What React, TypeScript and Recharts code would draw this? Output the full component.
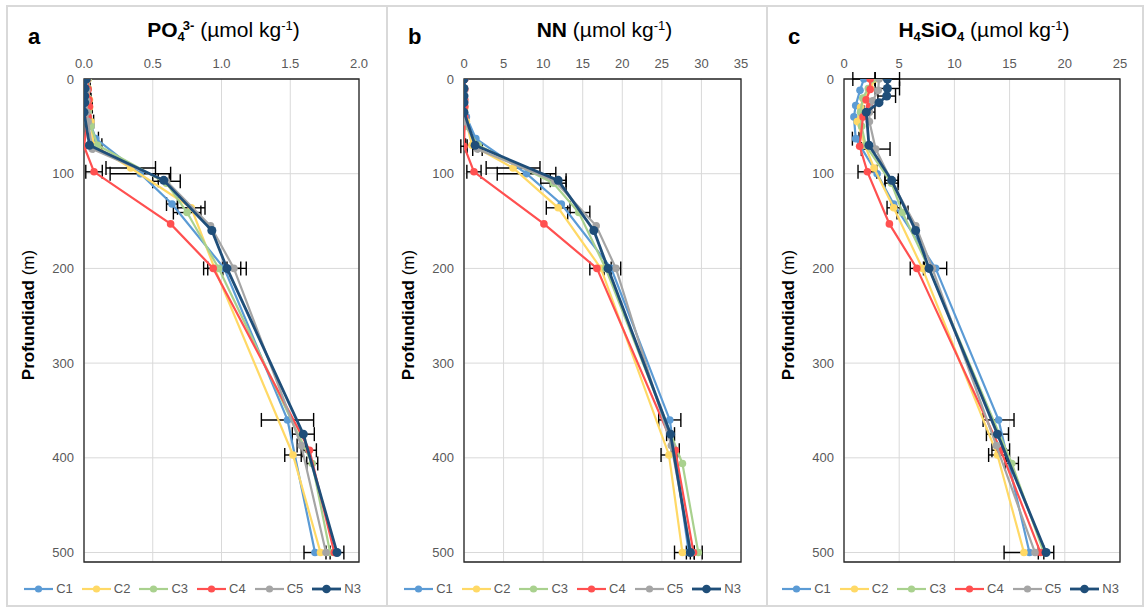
import React from "react";
import {
  ScatterChart,
  Scatter,
  XAxis,
  YAxis,
  CartesianGrid,
  ErrorBar,
  ReferenceArea,
} from "recharts";

// stations, in drawing order (N3 on top)
const stations = ["C1", "C2", "C3", "C4", "C5", "N3"];
const colors = ["#5B9BD5", "#FFD966", "#A9D18E", "#FF5050", "#A5A5A5", "#1F4E79"];

// sampling depths (m) per station
const depths = [
  [0, 12, 28, 40, 63, 100, 132, 200, 360, 500],
  [0, 10, 22, 30, 45, 70, 94, 136, 200, 397, 500],
  [0, 10, 20, 35, 50, 70, 110, 141, 200, 406, 500],
  [0, 11, 22, 29, 40, 71, 98, 153, 200, 392, 500],
  [0, 12, 23, 35, 45, 74, 108, 155, 200, 387, 500],
  [0, 10, 18, 25, 35, 70, 107, 160, 200, 375, 500],
];

// PO4 3- (µmol/kg)
const po4 = [
  [0.02, 0.02, 0.02, 0.03, 0.085, 0.41, 0.64, 1.02, 1.48, 1.68],
  [0.03, 0.03, 0.04, 0.04, 0.05, 0.07, 0.34, 0.78, 0.95, 1.52, 1.72],
  [0.03, 0.03, 0.03, 0.03, 0.05, 0.1, 0.6, 0.75, 0.98, 1.66, 1.79],
  [0.024, 0.03, 0.036, 0.04, 0.03, 0.0, 0.073, 0.63, 0.94, 1.64, 1.82],
  [0.02, 0.02, 0.02, 0.02, 0.03, 0.06, 0.6, 0.92, 1.09, 1.58, 1.76],
  [0.017, 0.007, 0.005, 0.005, 0.0, 0.04, 0.58, 0.93, 1.04, 1.595, 1.84],
];
const po4Err = [
  [0, 0, 0, 0, 0.02, 0.22, 0.04, 0, 0.19, 0.08],
  [0, 0, 0, 0, 0.02, 0, 0.18, 0.1, 0, 0.06, 0],
  [0, 0, 0, 0, 0, 0.03, 0, 0.1, 0, 0.04, 0],
  [0, 0.015, 0.015, 0.02, 0, 0, 0.06, 0, 0.07, 0.05, 0],
  [0, 0, 0, 0, 0, 0, 0.1, 0, 0.05, 0.03, 0],
  [0, 0, 0, 0, 0, 0, 0.04, 0, 0.14, 0.08, 0.05],
];

// nitrate + nitrite (µmol/kg)
const nn = [
  [0, 0, 0, 0.3, 1.5, 7.9, 12.3, 18.6, 26.0, 28.4],
  [0, 0, 0, 0.1, 0.3, 1.0, 6.2, 11.9, 17.3, 25.9, 27.6],
  [0, 0, 0, 0, 0.2, 1.8, 11.3, 14.5, 17.9, 27.6, 29.6],
  [0.1, 0.1, 0.1, 0.1, 0.1, 0, 1.26, 10.1, 16.8, 26.7, 29.0],
  [0, 0, 0, 0, 0.1, 1.7, 11.5, 16.7, 19.2, 26.2, 28.7],
  [0, 0, 0, 0, 0, 1.4, 11.9, 16.4, 18.2, 26.1, 28.6],
];
const nnErr = [
  [0, 0, 0, 0, 0, 3.7, 0, 0, 1.4, 0],
  [0, 0, 0, 0, 0, 0.8, 3.4, 1.5, 0, 1.0, 1.0],
  [0, 0, 0, 0, 0, 0, 1.6, 1.4, 0, 0, 0.5],
  [0, 0, 0, 0, 0, 0.4, 0.9, 0, 0.9, 0.5, 0],
  [0, 0, 0, 0, 0, 0.6, 0, 0, 0.6, 0, 0],
  [0, 0, 0, 0, 0, 0, 1.0, 0, 0, 0.5, 0.5],
];

// H4SiO4 (µmol/kg)
const si = [
  [1.8, 1.45, 1.06, 0.9, 1.06, 3.0, 4.5, 8.3, 14.0, 16.8],
  [2.8, 2.4, 1.8, 1.5, 1.2, 1.9, 2.72, 4.5, 7.1, 13.9, 16.3],
  [2.6, 2.2, 1.7, 1.5, 1.6, 1.96, 4.3, 5.3, 7.7, 15.2, 18.1],
  [2.37, 2.37, 2.0, 2.3, 1.72, 1.42, 2.12, 4.11, 6.6, 14.2, 17.8],
  [3.17, 3.1, 2.6, 2.3, 2.3, 2.87, 4.3, 6.5, 8.0, 13.8, 17.3],
  [3.93, 3.93, 3.87, 3.17, 2.02, 2.26, 4.32, 6.49, 7.7, 13.9, 18.3],
];
const siErr = [
  [1.0, 0, 0, 0, 0.3, 0, 0, 1.0, 1.4, 0],
  [0, 0, 0, 0, 0, 0, 0, 0.6, 0, 0.8, 1.8],
  [0, 0, 0, 0, 0, 0, 0.6, 0.5, 0, 0.6, 0],
  [0, 0, 0, 0, 0, 0, 0.85, 0, 0.6, 0.8, 0],
  [0, 0, 0, 0.5, 0, 1.3, 0, 0, 0, 0, 0],
  [1.1, 1.1, 0.8, 0, 0, 0, 0.6, 0, 0, 1.0, 0.7],
];

const depthTicks = [0, 100, 200, 300, 400, 500];
const po4Ticks = [0, 0.5, 1, 1.5, 2];
const nnTicks = [0, 5, 10, 15, 20, 25, 30, 35];
const siTicks = [0, 5, 10, 15, 20, 25];

const FONT = "Arial, 'Liberation Sans', sans-serif";
const tickStyle = { fill: "#595959", fontSize: 13, fontFamily: FONT };

const sub = { fontSize: "0.62em", position: "relative" as const, top: "0.3em" };
const sup = { fontSize: "0.62em", position: "relative" as const, top: "-0.55em" };

function Panel({
  left,
  width,
  letter,
  title,
  values,
  errors,
  ticks,
  fmt,
  marginRight,
}: any) {
  const xMax = ticks[ticks.length - 1];
  return (
    <div
      style={{
        position: "absolute",
        left,
        top: 5,
        width,
        height: 602,
        border: "2px solid #d9d9d9",
        boxSizing: "border-box",
      }}
    >
      <div
        style={{
          position: "absolute",
          left: 20,
          top: 19,
          fontSize: 22,
          lineHeight: "22px",
          fontWeight: "bold",
          fontFamily: FONT,
        }}
      >
        {letter}
      </div>
      <div
        style={{
          position: "absolute",
          left: 76,
          width: width - 76 - marginRight + 2,
          top: 12,
          textAlign: "center",
          fontSize: 21,
          lineHeight: "21px",
          fontFamily: FONT,
          whiteSpace: "nowrap",
        }}
      >
        {title}
      </div>
      <div
        style={{
          position: "absolute",
          left: 21 - 100,
          top: 308 - 10,
          width: 200,
          height: 20,
          lineHeight: "20px",
          textAlign: "center",
          transform: "rotate(-90deg)",
          fontSize: 17,
          fontFamily: FONT,
          whiteSpace: "nowrap",
        }}
      >
        <b>Profundidad</b> (m)
      </div>
      <div style={{ position: "absolute", left: -2, top: -5 }}>
        <ScatterChart
          width={width}
          height={609}
          margin={{ top: 52, right: marginRight, bottom: 49, left: 38 }}
        >
          <CartesianGrid stroke="#d9d9d9" strokeWidth={1} />
          <XAxis
            type="number"
            dataKey="x"
            orientation="top"
            domain={[0, xMax]}
            ticks={ticks}
            allowDataOverflow
            tickFormatter={fmt}
            axisLine={false}
            tickLine={false}
            tickSize={0}
            tickMargin={11}
            height={25}
            tick={tickStyle}
          />
          <YAxis
            type="number"
            dataKey="y"
            reversed
            domain={[0, 510]}
            ticks={depthTicks}
            allowDataOverflow
            axisLine={false}
            tickLine={false}
            tickSize={0}
            tickMargin={10}
            width={40}
            tick={tickStyle}
          />
          <ReferenceArea
            x1={0}
            x2={xMax}
            y1={0}
            y2={510}
            fill="none"
            fillOpacity={0}
            stroke="#262626"
            strokeWidth={1.3}
          />
          {stations.map((s, i) => {
            const pts = depths[i].map((d, j) => ({
              x: values[i][j],
              y: d,
              err: errors[i][j],
            }));
            const isN3 = s === "N3";
            const r = isN3 ? 4.5 : 3.8;
            return (
              <Scatter
                key={s}
                name={s}
                data={pts}
                fill={colors[i]}
                line={{ stroke: colors[i], strokeWidth: isN3 ? 2.8 : 2.2 }}
                lineType="joint"
                isAnimationActive={false}
                shape={(p: any) => (
                  <circle cx={p.cx} cy={p.cy} r={r} fill={colors[i]} />
                )}
              >
                <ErrorBar
                  dataKey="err"
                  direction="x"
                  width={7}
                  stroke="#000"
                  strokeWidth={1.4}
                />
              </Scatter>
            );
          })}
        </ScatterChart>
      </div>
      <div
        style={{
          position: "absolute",
          left: 0,
          width: "100%",
          top: 574,
          display: "flex",
          justifyContent: "center",
          fontFamily: FONT,
          fontSize: 13,
          color: "#595959",
        }}
      >
        {stations.map((s, i) => (
          <div key={s} style={{ display: "flex", alignItems: "center", marginRight: 9 }}>
            <svg width={29} height={10} style={{ marginRight: 3 }}>
              <line x1={0} y1={5} x2={29} y2={5} stroke={colors[i]} strokeWidth={s === "N3" ? 2.8 : 2.2} />
              <circle cx={14.5} cy={5} r={s === "N3" ? 4.3 : 3.6} fill={colors[i]} />
            </svg>
            <span>{s}</span>
          </div>
        ))}
      </div>
    </div>
  );
}

export default function App() {
  return (
    <div
      style={{
        position: "absolute",
        left: 0,
        top: 0,
        width: 1144,
        height: 609,
        background: "#fff",
        overflow: "hidden",
      }}
    >
      <Panel
        left={6}
        width={382}
        letter="a"
        values={po4}
        errors={po4Err}
        ticks={po4Ticks}
        fmt={(v: number) => v.toFixed(1)}
        marginRight={29}
        title={
          <span>
            <b>PO</b>
            <b style={sub}>4</b>
            <b style={{ ...sup, marginLeft: -2 }}>3-</b> (µmol kg<span style={sup}>-1</span>)
          </span>
        }
      />
      <Panel
        left={386}
        width={382}
        letter="b"
        values={nn}
        errors={nnErr}
        ticks={nnTicks}
        fmt={(v: number) => String(v)}
        marginRight={27}
        title={
          <span>
            <b>NN</b> (µmol kg<span style={sup}>-1</span>)
          </span>
        }
      />
      <Panel
        left={766}
        width={378}
        letter="c"
        values={si}
        errors={siErr}
        ticks={siTicks}
        fmt={(v: number) => String(v)}
        marginRight={24}
        title={
          <span>
            <b>H</b>
            <b style={sub}>4</b>
            <b>SiO</b>
            <b style={sub}>4</b> (µmol kg<span style={sup}>-1</span>)
          </span>
        }
      />
    </div>
  );
}
